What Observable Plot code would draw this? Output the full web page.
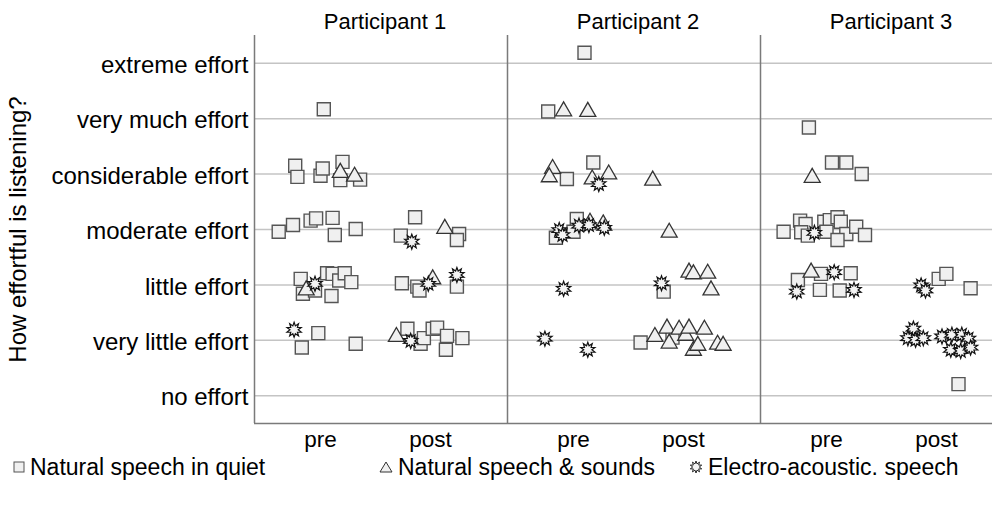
<!DOCTYPE html>
<html><head><meta charset="utf-8">
<script src="https://cdn.jsdelivr.net/npm/d3@7"></script>
<script src="https://cdn.jsdelivr.net/npm/@observablehq/plot@0.6"></script>
<style>
body{margin:0;background:#fff;font-family:"Liberation Sans",Arial,sans-serif;overflow:hidden;}
#wrap{width:992px;height:508px;overflow:hidden;position:relative;}
#chart svg{max-width:none !important;display:block;}
#legend{position:absolute;top:452px;left:0;width:992px;height:30px;font-size:23px;color:#000;}
.item{position:absolute;top:0;height:30px;display:flex;align-items:center;white-space:nowrap;}
.item svg{margin-right:5px;}
</style></head><body>
<div id="wrap"><div id="chart"></div><div id="legend"></div></div>
<script>
const participants = ["Participant 1", "Participant 2", "Participant 3"];
const phases = ["pre", "post"];
const effortLabels = ["no effort", "very little effort", "little effort", "moderate effort",
  "considerable effort", "very much effort", "extreme effort"];
const conditions = ["Natural speech in quiet", "Natural speech & sounds", "Electro-acoustic. speech"];

// each point: [time (0 = pre, 1 = post, with jitter), rated effort (0..6, with jitter)]
const p1Quiet = [[0.03,5.17],[-0.23,4.15],[-0.21,3.95],[0.00,3.97],[0.02,4.10],[0.20,4.22],[0.18,3.89],[0.36,3.90],
  [-0.38,2.96],[-0.25,3.08],[-0.09,3.16],[-0.04,3.20],[0.11,3.21],[0.13,2.90],[0.32,3.01],
  [0.86,3.22],[0.73,2.89],[1.26,2.92],[1.24,2.81],
  [-0.18,2.11],[-0.16,1.84],[-0.05,1.90],[0.06,2.21],[0.11,2.20],[0.17,2.08],[0.22,2.21],[0.28,2.05],[0.10,1.80],
  [0.74,2.03],[0.88,1.97],[0.90,1.90],[1.24,1.97],
  [-0.02,1.13],[-0.17,0.87],[0.32,0.94],
  [0.79,1.21],[0.91,0.94],[0.94,1.04],[1.02,1.21],[1.06,1.23],[1.15,1.08],[1.14,0.83],[1.29,1.04]];
const p1Sounds = [[0.18,4.06],[0.31,3.99],[1.13,3.05],[-0.13,1.94],[1.02,2.14],[0.69,1.10]];
const p1Electro = [[0.83,2.78],[-0.05,2.02],[0.98,2.02],[1.24,2.18],[-0.24,1.19],[0.82,0.99]];

const p2Quiet = [[0.10,6.19],[-0.23,5.13],[-0.06,3.91],[0.18,4.21],[-0.16,2.85],[0.03,3.19],[0.00,2.96],
  [0.82,1.88],[0.61,0.96],[0.90,1.05]];
const p2Sounds = [[-0.09,5.17],[0.13,5.16],[-0.19,4.13],[-0.22,3.98],[0.17,3.94],[0.32,4.03],[0.72,3.92],
  [0.15,3.16],[0.27,3.13],[0.87,2.98],[1.05,2.26],[1.09,2.23],[1.22,2.24],[1.25,1.94],
  [0.74,1.10],[0.85,1.25],[0.87,0.98],[0.96,1.23],[1.02,1.12],[1.05,1.25],[1.09,0.85],[1.13,0.94],
  [1.19,1.23],[1.31,0.96],[1.36,0.94]];
const p2Electro = [[0.23,3.82],[-0.13,2.99],[-0.10,2.90],[0.05,3.07],[0.14,3.08],[0.28,3.03],
  [-0.09,1.93],[0.80,2.03],[-0.26,1.03],[0.13,0.83]];

const p3Quiet = [[-0.16,4.84],[0.05,4.21],[0.18,4.21],[0.32,4.00],
  [-0.39,2.96],[-0.24,3.16],[-0.19,3.10],[-0.23,2.95],[-0.17,2.89],[-0.02,3.14],[0.03,3.17],[0.10,3.22],
  [0.13,3.14],[0.00,2.96],[0.18,2.92],[0.10,2.81],[0.27,3.05],[0.35,2.90],
  [-0.26,2.09],[-0.05,2.20],[0.22,2.21],[-0.06,1.91],[0.12,1.90],
  [1.02,2.11],[1.09,2.20],[1.31,1.94],[1.20,0.21]];
const p3Sounds = [[-0.13,3.97],[-0.14,2.26]];
const p3Electro = [[-0.11,2.94],[-0.27,1.88],[0.07,2.23],[0.25,1.91],[0.86,1.99],[0.90,1.90],
  [0.79,1.21],[0.74,1.04],[0.81,1.01],[0.88,1.04],[1.05,1.07],[1.14,1.10],[1.23,1.10],[1.29,1.03],
  [1.13,0.83],[1.22,0.81],[1.31,0.87]];

const series = [
  [p1Quiet, p1Sounds, p1Electro],
  [p2Quiet, p2Sounds, p2Electro],
  [p3Quiet, p3Sounds, p3Electro]
];
const rows = [];
series.forEach((bySeries, i) => bySeries.forEach((pts, c) => pts.forEach(([t, e]) =>
  rows.push({participant: participants[i], condition: conditions[c], t, effort: e}))));

// custom symbols (size = PI r^2)
const squareSym = {draw(ctx, size) { const h = Math.sqrt(size / Math.PI); ctx.rect(-h, -h, 2 * h, 2 * h); }};
const triSym = {draw(ctx, size) { const h = Math.sqrt(size / Math.PI);
  ctx.moveTo(0, -h * 0.92); ctx.lineTo(h, h * 0.82); ctx.lineTo(-h, h * 0.82); ctx.closePath(); }};
const starSym = {draw(ctx, size) { const h = Math.sqrt(size / Math.PI); const n = 10;
  for (let k = 0; k < 2 * n; k++) { const rr = k % 2 ? h * 0.55 : h; const a = Math.PI * k / n - Math.PI / 2;
    const px = rr * Math.cos(a), py = rr * Math.sin(a); if (k) ctx.lineTo(px, py); else ctx.moveTo(px, py); }
  ctx.closePath(); }};

const yTicks = d3.range(effortLabels.length);
const font = '"Liberation Sans", Arial, sans-serif';
const byCond = c => rows.filter(d => d.condition === conditions[c]);

const chart = Plot.plot({
  width: 1013, height: 460,
  marginLeft: 254, marginRight: 0, marginTop: 35, marginBottom: 37,
  style: {fontFamily: font, fontSize: "22px", color: "#000", background: "#fff"},
  fx: {domain: participants, padding: 0, label: null},
  x: {domain: [-0.6, 1.7], label: null},
  y: {domain: [-0.5, 6.5], label: null},
  marks: [
    Plot.ruleY(yTicks, {stroke: "#c4c4c4", strokeWidth: 1.5}),
    Plot.ruleX([-0.6], {stroke: "#7a7a7a", strokeWidth: 1.5}),
    Plot.ruleY([-0.5], {stroke: "#7a7a7a", strokeWidth: 1.5}),
    Plot.axisFx({anchor: "top", tickSize: 0, tickPadding: 7, label: null, fontSize: 22, dx: 4}),
    Plot.axisX({ticks: [0, 1], tickFormat: i => phases[i], tickSize: 0, tickPadding: 8, label: null, fontSize: 22.5}),
    Plot.axisY({ticks: yTicks, tickFormat: i => effortLabels[i], tickSize: 0, tickPadding: 6, fontSize: 24, dy: 2,
      label: "How effortful is listening?", labelAnchor: "center", labelOffset: 246, labelArrow: "none"}),
    Plot.dot(byCond(0), {fx: "participant", x: "t", y: "effort", symbol: squareSym, r: 6.5,
      fill: "#f0f0f0", stroke: "#555", strokeWidth: 1.4}),
    Plot.dot(byCond(1), {fx: "participant", x: "t", y: "effort", symbol: triSym, r: 8,
      fill: "#f0f0f0", stroke: "#333", strokeWidth: 1.3}),
    Plot.dot(byCond(2), {fx: "participant", x: "t", y: "effort", symbol: starSym, r: 7.5,
      fill: "#f4f4f4", stroke: "#111", strokeWidth: 1.2})
  ]
});
chart.style.maxWidth = "none";
document.getElementById("chart").appendChild(chart);

// legend
const legendSyms = [
  '<svg width="12" height="12"><rect x="1" y="1" width="10" height="10" fill="#f0f0f0" stroke="#555" stroke-width="1"/></svg>',
  '<svg width="14" height="12"><path d="M7,1 L13,11 L1,11 Z" fill="#f0f0f0" stroke="#333" stroke-width="1"/></svg>',
  '<svg width="14" height="14"><path d="' + d3.symbol(starSym, Math.PI * 36)() + '" transform="translate(7,7)" fill="#f4f4f4" stroke="#111" stroke-width="0.9"/></svg>'
];
const legendLeft = [13, 379, 689];
const legend = document.getElementById("legend");
conditions.forEach((c, i) => {
  const it = document.createElement("div");
  it.className = "item";
  it.style.left = legendLeft[i] + "px";
  it.innerHTML = legendSyms[i] + "<span></span>";
  it.querySelector("span").textContent = c;
  legend.appendChild(it);
});
</script>
</body></html>
